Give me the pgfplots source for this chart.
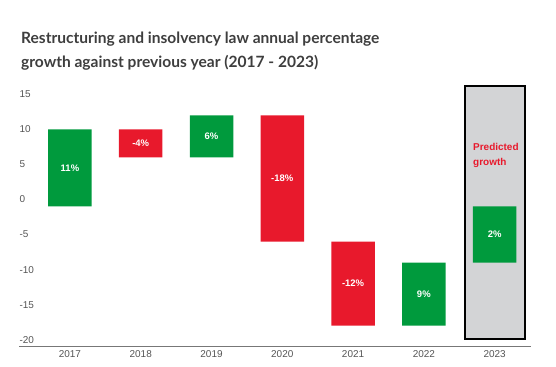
\documentclass[border=0pt]{standalone}
\usepackage{pgfplots}
\pgfplotsset{compat=1.18}
\usepackage{pgfplotstable}
\usepackage{fontspec}
\setmainfont{Liberation Sans}
\newfontfamily\titlefont{Lato}
\definecolor{barGreen}{HTML}{009A3D}
\definecolor{barRed}{HTML}{E8192C}
\definecolor{boxGray}{HTML}{D3D4D6}
\definecolor{titleGray}{HTML}{3E3E3E}
\definecolor{tickGray}{HTML}{555555}

% x: category index; base: bottom of floating bar; green/red: bar height
\pgfplotstableread{
x base green red
0  -1  11  0
1   6   0  4
2   6   6  0
3  -6   0 18
4 -18   0 12
5 -18   9  0
6  -9   8  0
}\waterfall

\pgfplotsset{myaxis/.style={
  at={(19bp,20.3bp)}, anchor=south west, scale only axis,
  width=511.7bp, height=262.9bp,
  xmin=-0.72, xmax=6.51, ymin=-21, ymax=16.5, clip=false}}

\begin{document}
\begin{tikzpicture}
\path[use as bounding box] (0bp,0bp) rectangle (556bp,367bp);
\node[anchor=base west, inner sep=0pt, text=titleGray, font=\titlefont\bfseries\fontsize{15.6}{20}\selectfont] at (21bp,323bp) {Restructuring and insolvency law annual percentage};
\node[anchor=base west, inner sep=0pt, text=titleGray, font=\titlefont\bfseries\fontsize{15.6}{20}\selectfont] at (21bp,299bp) {growth against previous year (2017 - 2023)};

\begin{axis}[myaxis, hide axis]
\draw[fill=boxGray, draw=black, line width=1.5pt] (axis cs:5.58,-19.9) rectangle (axis cs:6.43,16.2);
\end{axis}

\begin{axis}[myaxis,
  ybar stacked, stack negative=on previous, bar width=43.5bp,
  axis x line=bottom, axis y line=left,
  x axis line style={draw=tickGray!80, line width=1pt, -},
  y axis line style={draw=none},
  xtick={0,...,6},
  xticklabels={2017,2018,2019,2020,2021,2022,2023},
  ytick={-20,-15,...,15},
  major tick length=0pt,
  tick label style={font=\fontsize{10}{12}\selectfont, text=tickGray},
  yticklabel style={anchor=west, xshift=-3bp},
  /pgf/number format/assume math mode=true]
\addplot[draw=none, fill=none] table[x=x, y=base] {\waterfall};
\addplot[draw=none, fill=barGreen] table[x=x, y=green] {\waterfall};
\addplot[draw=none, fill=barRed] table[x=x, y=red] {\waterfall};
\end{axis}

\begin{axis}[myaxis, hide axis]
\addplot[draw=none, mark=none, nodes near coords, point meta=explicit symbolic,
  every node near coord/.style={anchor=center, text=white, font=\bfseries\fontsize{9.5}{11}\selectfont}]
  coordinates {(0,4.5)[11\%] (1,8)[-4\%] (2,9)[6\%] (3,3)[-18\%] (4,-12)[-12\%] (5,-13.5)[9\%] (6,-5)[2\%]};
\end{axis}

\node[anchor=base west, inner sep=0pt, text=barRed, font=\bfseries\fontsize{10}{12}\selectfont] at (473bp,216.5bp) {Predicted};
\node[anchor=base west, inner sep=0pt, text=barRed, font=\bfseries\fontsize{10}{12}\selectfont] at (473bp,201.5bp) {growth};
\end{tikzpicture}
\end{document}
